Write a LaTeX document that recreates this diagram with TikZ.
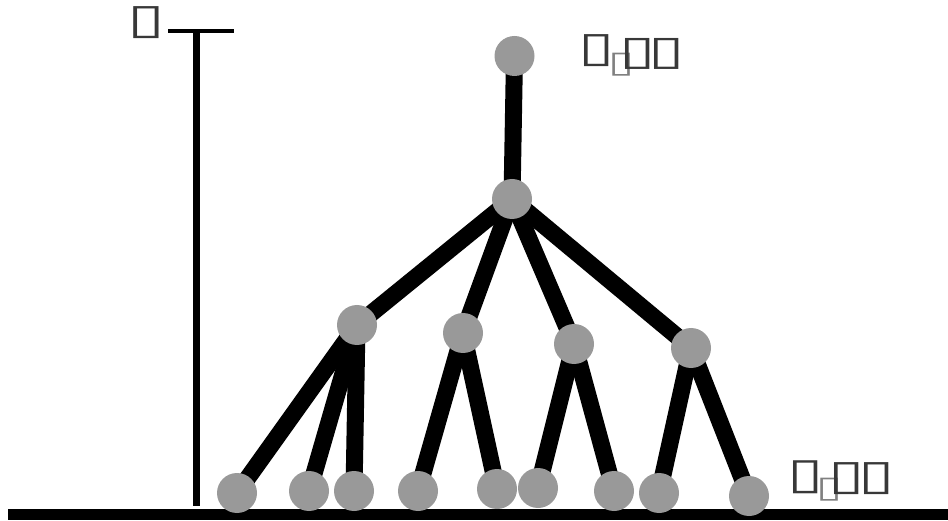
\documentclass[tikz,border=0pt]{standalone}
\usepackage{fontspec}
\usetikzlibrary{backgrounds}
\newfontfamily\symfont{DejaVu Sans}
\definecolor{nodegray}{HTML}{999999}
\definecolor{boxgray}{HTML}{383838}
\definecolor{subgray}{HTML}{808080}
% a stretched outline rectangle glyph; its side bearings are trimmed by the centred \makebox
\newcommand\rectglyph[2]{\makebox[#1]{\resizebox*{1.45\dimexpr#1\relax}{#2}{\symfont ▯}}}
\tikzset{
  vertex/.style={circle, fill=nodegray, draw=none, minimum size=40pt, inner sep=0pt},
  branch/.style={line width=17pt, black},
  glyph/.style={inner sep=0pt, text=boxgray, anchor=base west}
}
\begin{document}
\begin{tikzpicture}[x=1pt, y=-1pt]
\useasboundingbox (0,0) rectangle (948,521);
% ground and vertical scale
\coordinate (g0) at (8,514.5);
\coordinate (g1) at (948,514.5);
\draw[line width=11pt] (g0) -- (g1);
\coordinate (ax0) at (196,31);
\coordinate (ax1) at (196,506);
\coordinate (bar0) at (168,31);
\coordinate (bar1) at (234,31);
\draw[line width=7pt] (ax0) -- (ax1);
\draw[line width=4pt] (bar0) -- (bar1);
% tree vertices
\node[vertex] (r)  at (514.5,56) {};
\node[vertex] (m)  at (512,199) {};
\node[vertex] (a)  at (357,325) {};
\node[vertex] (b)  at (463,333) {};
\node[vertex] (c)  at (574,344) {};
\node[vertex] (d)  at (691,348) {};
\node[vertex] (l1) at (237,493) {};
\node[vertex] (l2) at (309,491) {};
\node[vertex] (l3) at (354,491) {};
\node[vertex] (l4) at (418,491) {};
\node[vertex] (l5) at (497,489) {};
\node[vertex] (l6) at (538,488) {};
\node[vertex] (l7) at (614,491) {};
\node[vertex] (l8) at (659,493) {};
\node[vertex] (l9) at (749,496) {};
% branches behind the vertices
\begin{scope}[on background layer]
\draw[branch] (r.center) -- (m.center);
\draw[branch] (m.center) -- (a.center);
\draw[branch] (m.center) -- (b.center);
\draw[branch] (m.center) -- (c.center);
\draw[branch] (m.center) -- (d.center);
\draw[branch] (a.center) -- (l1.center);
\draw[branch] (a.center) -- (l2.center);
\draw[branch] (a.center) -- (l3.center);
\draw[branch] (b.center) -- (l4.center);
\draw[branch] (b.center) -- (l5.center);
\draw[branch] (c.center) -- (l6.center);
\draw[branch] (c.center) -- (l7.center);
\draw[branch] (d.center) -- (l8.center);
\draw[branch] (d.center) -- (l9.center);
\end{scope}
% labels
\node[glyph] (axlabel) at (133,34) {\rectglyph{26pt}{32pt}};
\node[glyph] (toplabel) at (584,65) {\raisebox{3pt}{\rectglyph{25pt}{32pt}}\kern3pt\raisebox{-8pt}{\color{subgray}\rectglyph{18pt}{23pt}}\kern-5pt\rectglyph{25pt}{31pt}\kern4pt\rectglyph{25pt}{31pt}};
\node[glyph] (botlabel) at (793,489) {\raisebox{1pt}{\rectglyph{25pt}{33pt}}\kern2pt\raisebox{-9pt}{\color{subgray}\rectglyph{18pt}{23pt}}\kern-4pt\rectglyph{25pt}{32pt}\kern5pt\rectglyph{25pt}{32pt}};
\end{tikzpicture}
\end{document}
